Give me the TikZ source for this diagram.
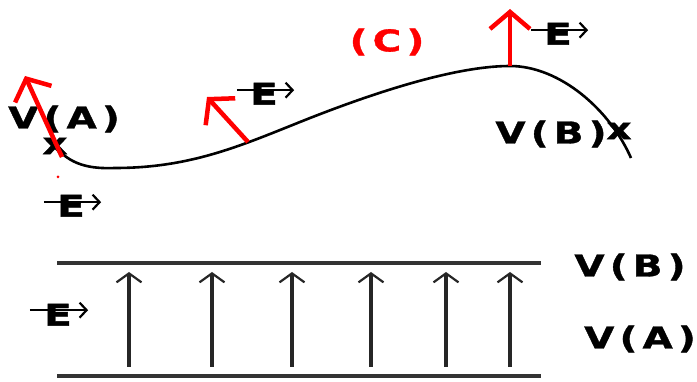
\documentclass[tikz,border=0pt]{standalone}
\usepackage{fontspec}
\setmainfont{DejaVu Sans}
\newfontfamily\lblfont[FakeBold=1]{DejaVu Sans Bold}
\newcommand\gp{\hspace{4pt}}
\usetikzlibrary{arrows.meta}
\begin{document}
\begin{tikzpicture}[x=1pt,y=-1pt,
  lbl/.style={font=\fontsize{30}{30}\lblfont, inner sep=0pt, xscale=1.3},
  vecE/.style={font=\fontsize{30}{30}\lblfont, inner sep=0pt, xscale=1.35, text height=0.73em, text depth=0pt},
  vecarrow/.style={line width=2.4pt, -{Straight Barb[length=7pt,width=15pt,line width=2.2pt]}},
  redarrow/.style={draw=red, line width=4.5pt, -{Straight Barb[length=17pt,width=40pt,line width=4.5pt]}},
  fieldarrow/.style={draw=black!85, line width=3.4pt, -{Straight Barb[length=9pt,width=25pt,line width=2.2pt]}},
  plate/.style={draw=black!80, line width=3.6pt}]
\useasboundingbox (0,0) rectangle (697,382);

% curve
\coordinate (c0) at (55,146);
\coordinate (c1) at (115,168);
\coordinate (c2) at (300,122);
\coordinate (pC) at (510,66);
\coordinate (c4) at (631,158);
\draw[line width=2.6pt] (c0) .. controls (70,165) and (90,169) .. (c1)
  .. controls (190,168) and (240,146) .. (c2)
  .. controls (360,98) and (450,66) .. (pC)
  .. controls (560,66) and (610,110) .. (c4);
\coordinate (pA) at (62,157);
\coordinate (tA) at (25,76);
\coordinate (pM) at (248,142);
\coordinate (tM) at (207,97);
\coordinate (tC) at (510,9);

% labels on curve
\node[lbl] (VA1) at (64,119) {V\gp(\gp A\gp)};
\node[lbl] (xA) at (55,146) {x};
\node[lbl] (VB1) at (551,134) {V\gp(\gp B\gp)};
\node[lbl] (xB) at (619,131) {x};
\node[lbl, text=red] (C) at (387,42) {(\gp C\gp)};

% red field arrows
\draw[redarrow] (pA) -- (tA);
\draw[redarrow] (pM) -- (tM);
\draw[redarrow] (pC) -- (tC);
\fill[red] (58,177) circle (1.5pt);

% vector E labels
\node[vecE] (E1) at (71,213) {E};
\draw[vecarrow] ([xshift=-13pt,yshift=7pt]E1.north west) -- ([xshift=16pt,yshift=7pt]E1.north east);
\node[vecE] (E2) at (264,101) {E};
\draw[vecarrow] ([xshift=-13pt,yshift=7pt]E2.north west) -- ([xshift=16pt,yshift=7pt]E2.north east);
\node[vecE] (E3) at (558,41) {E};
\draw[vecarrow] ([xshift=-13pt,yshift=7pt]E3.north west) -- ([xshift=16pt,yshift=7pt]E3.north east);
\node[vecE] (E4) at (58,322) {E};
\draw[vecarrow] ([xshift=-14pt,yshift=8pt]E4.north west) -- ([xshift=16pt,yshift=8pt]E4.north east);

% plates
\coordinate (Tl) at (57,263);
\coordinate (Tr) at (541,263);
\coordinate (Bl) at (57,376);
\coordinate (Br) at (541,376);
\draw[plate] (Tl) -- (Tr);
\draw[plate] (Bl) -- (Br);
\foreach \i/\x in {1/129,2/212,3/292,4/371,5/446,6/510}{
  \coordinate (b\i) at (\x,367);
  \coordinate (t\i) at (\x,272);
  \draw[fieldarrow] (b\i) -- (t\i);
}
\node[lbl] (VB2) at (630,267) {V\gp(\gp B\gp)};
\node[lbl] (VA2) at (640,339) {V\gp(\gp A\gp)};
\end{tikzpicture}
\end{document}
